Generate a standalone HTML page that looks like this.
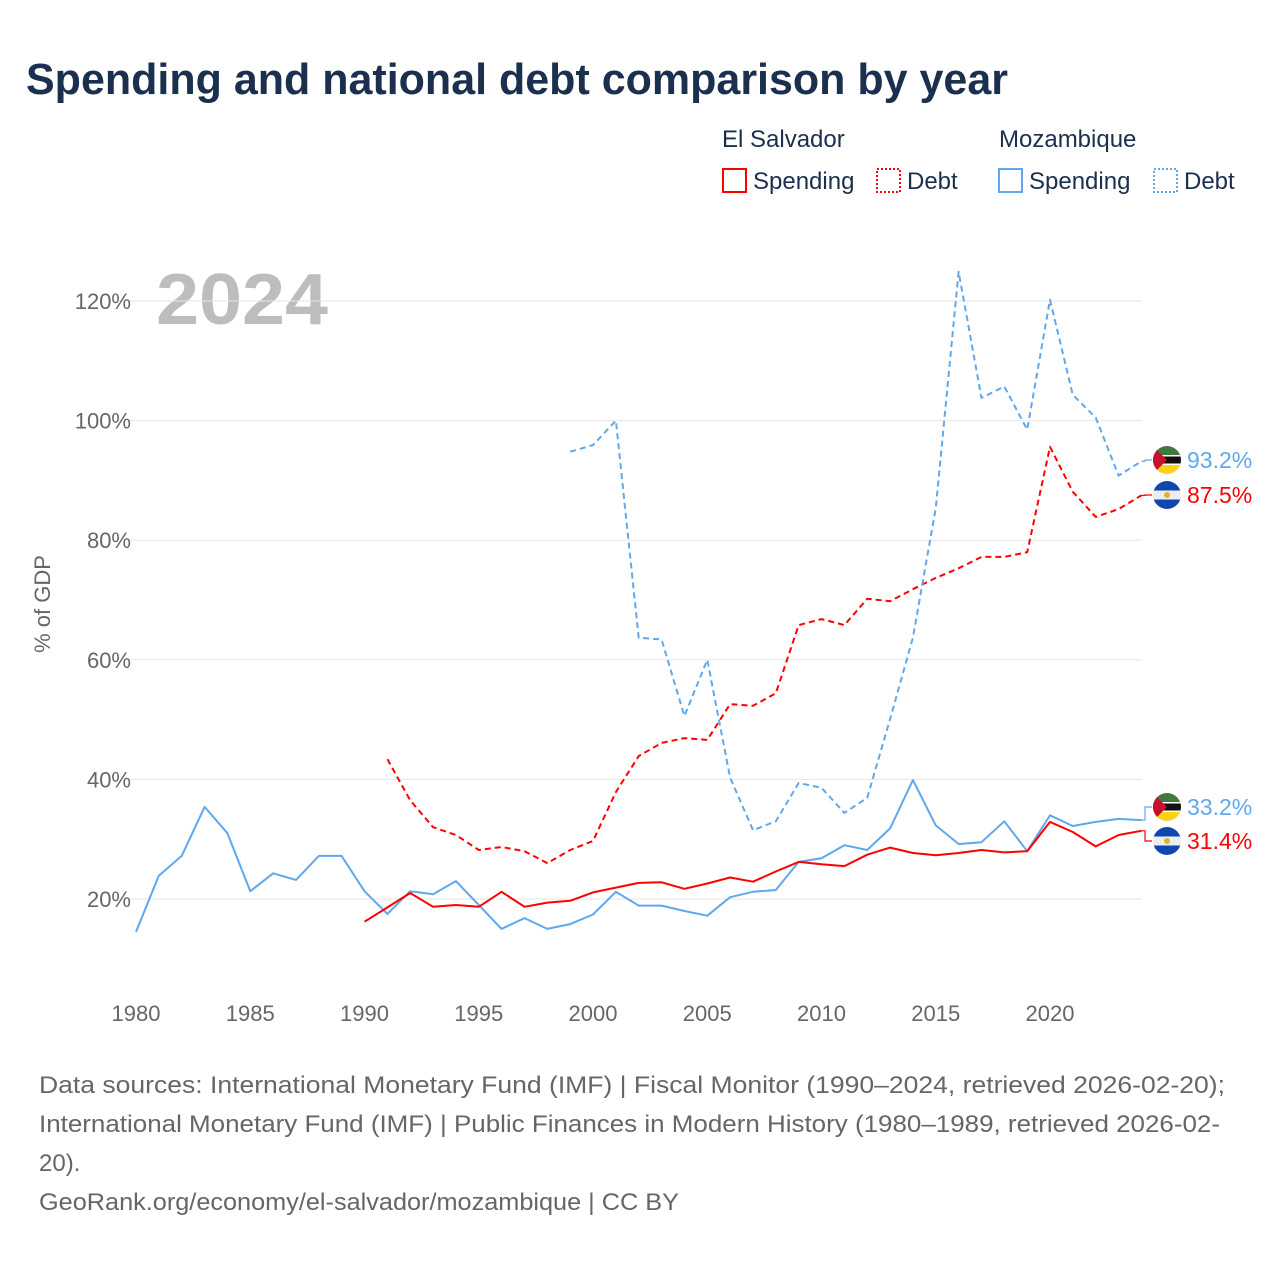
<!DOCTYPE html>
<html><head><meta charset="utf-8"><style>
body{margin:0;background:#fff;width:1280px;height:1280px;overflow:hidden;font-family:"Liberation Sans",sans-serif}
</style></head><body>
<svg id="c" width="1280" height="1280" xmlns="http://www.w3.org/2000/svg">
<text x="26" y="94" font-size="44" font-weight="bold" fill="#1b2f4e" textLength="982" lengthAdjust="spacingAndGlyphs">Spending and national debt comparison by year</text>
<g font-size="24" fill="#1b2f4e">
<text x="722" y="147">El Salvador</text>
<text x="999" y="147">Mozambique</text>
<g><rect x="723" y="169" width="23" height="23" fill="none" stroke="#f00" stroke-width="2"/><text x="753" y="189">Spending</text></g>
<g><rect x="877" y="169" width="23" height="23" fill="none" stroke="#f00" stroke-width="2" stroke-dasharray="2,2"/><text x="907" y="189">Debt</text></g>
<g><rect x="999" y="169" width="23" height="23" fill="none" stroke="#5ea8ee" stroke-width="2"/><text x="1029" y="189">Spending</text></g>
<g><rect x="1154" y="169" width="23" height="23" fill="none" stroke="#5ea8ee" stroke-width="2" stroke-dasharray="2,2"/><text x="1184" y="189">Debt</text></g>
</g>
<text x="156" y="324" font-size="72" font-weight="bold" fill="#bdbdbd" textLength="172" lengthAdjust="spacingAndGlyphs">2024</text>
<text transform="translate(50,604) rotate(-90)" text-anchor="middle" font-size="22" fill="#666">% of GDP</text>
<g id="grid"></g><g id="lines"></g><g id="ends"></g>
<g font-size="24" fill="#666">
<text x="39" y="1093" textLength="1186" lengthAdjust="spacingAndGlyphs">Data sources: International Monetary Fund (IMF) | Fiscal Monitor (1990–2024, retrieved 2026-02-20);</text>
<text x="39" y="1132" textLength="1181" lengthAdjust="spacingAndGlyphs">International Monetary Fund (IMF) | Public Finances in Modern History (1980–1989, retrieved 2026-02-</text>
<text x="39" y="1171">20).</text>
<text x="39" y="1210" textLength="640" lengthAdjust="spacingAndGlyphs">GeoRank.org/economy/el-salvador/mozambique | CC BY</text>
</g>
</svg>
<script>
const yTicks=[20,40,60,80,100,120];
const xTicks=[1980,1985,1990,1995,2000,2005,2010,2015,2020];
const mzSpendStart=1980;
const mzSpending=[14.5,23.9,27.2,35.4,31.0,21.3,24.3,23.2,27.2,27.2,21.3,17.5,21.3,20.8,23.0,19.0,15.0,16.8,15.0,15.8,17.4,21.2,18.9,18.9,18.0,17.2,20.3,21.2,21.5,26.2,26.8,29.0,28.2,31.8,39.9,32.3,29.2,29.5,33.0,28.0,34.0,32.2,32.9,33.4,33.2];
const esSpendStart=1990;
const esSpending=[16.2,18.6,21.0,18.7,19.0,18.7,21.2,18.7,19.4,19.7,21.1,21.9,22.7,22.8,21.7,22.6,23.6,22.9,24.6,26.2,25.8,25.5,27.4,28.6,27.7,27.3,27.7,28.2,27.8,28.0,32.9,31.2,28.8,30.7,31.4];
const esDebtStart=1991;
const esDebt=[43.4,36.5,32.0,30.7,28.2,28.7,28.0,26.0,28.2,29.7,37.9,43.9,46.1,46.9,46.6,52.6,52.3,54.4,65.8,66.8,65.8,70.2,69.8,71.8,73.7,75.3,77.2,77.2,78.0,95.6,88.1,83.9,85.2,87.5];
const mzDebtStart=1999;
const mzDebt=[94.8,95.9,100,63.7,63.4,50.6,60,40.3,31.5,33.0,39.4,38.6,34.4,36.9,50.1,63.7,85.4,124.9,103.8,105.7,98.5,120.2,104.3,100.5,90.8,93.2];

const X=y=>136+(y-1980)*22.85;
const Y=v=>1018.6-v*5.98;
const NS='http://www.w3.org/2000/svg';
function mk(t,a,p){const e=document.createElementNS(NS,t);for(const k in a)e.setAttribute(k,a[k]);p.appendChild(e);return e;}
const grid=document.getElementById('grid');
yTicks.forEach(v=>{
 const l=mk('line',{x1:128,x2:1142,y1:Y(v),y2:Y(v),stroke:'#e6e6e6','stroke-width':1},grid);
 
 
 const t=mk('text',{x:131,y:Y(v)+8,'text-anchor':'end','font-size':22,fill:'#666'},grid);
 t.textContent=v+'%';
 
 
});
xTicks.forEach(y=>{
 const t=mk('text',{x:X(y),y:1021,'text-anchor':'middle','font-size':22,fill:'#666'},grid);
 t.textContent=y;
 
 
});
const lines=document.getElementById('lines');
function series(arr,start,color,dash,name){
 const d=arr.map((v,i)=>(i?'L':'M')+X(start+i).toFixed(1)+','+Y(v).toFixed(1)).join('');
 const p=mk('path',{d:d,fill:'none',stroke:color,'stroke-width':2,'stroke-dasharray':dash||'none','stroke-linejoin':'round'},lines);
 
 
}
series(mzSpending,mzSpendStart,'#5ea8ee',null,'mozambique-spending-line');
series(esSpending,esSpendStart,'#f00',null,'el-salvador-spending-line');
series(esDebt,esDebtStart,'#f00','6,4','el-salvador-debt-line');
series(mzDebt,mzDebtStart,'#5ea8ee','6,4','mozambique-debt-line');

const ends=document.getElementById('ends');
function flag(cx,cy,mz,g){
 const cp='cp'+Math.round(cx)+'_'+Math.round(cy);
 const c=mk('clipPath',{id:cp},g);mk('circle',{cx:cx,cy:cy,r:14},c);
 const f=mk('g',{'clip-path':'url(#'+cp+')'},g);
 if(mz){
  mk('rect',{x:cx-14,y:cy-14,width:28,height:9,fill:'#3f7a3a'},f);
  mk('rect',{x:cx-14,y:cy-5,width:28,height:10,fill:'#111'},f);
  mk('rect',{x:cx-14,y:cy-5,width:28,height:1.5,fill:'#fff'},f);
  mk('rect',{x:cx-14,y:cy+3.5,width:28,height:1.5,fill:'#fff'},f);
  mk('rect',{x:cx-14,y:cy+5,width:28,height:9,fill:'#fcd116'},f);
  mk('polygon',{points:(cx-14)+','+(cy-14)+' '+(cx)+','+cy+' '+(cx-14)+','+(cy+14),fill:'#c8102e'},f);
 }else{
  mk('rect',{x:cx-14,y:cy-14,width:28,height:9.5,fill:'#0f47af'},f);
  mk('rect',{x:cx-14,y:cy-4.5,width:28,height:9,fill:'#eee'},f);
  mk('rect',{x:cx-14,y:cy+4.5,width:28,height:9.5,fill:'#0f47af'},f);
  mk('circle',{cx:cx,cy:cy,r:3,fill:'#d8b530'},f);
 }
}
function endLabel(val,ly,color,mz,name){
 const g=mk('g',{},ends);
 
 
 const x0=X(2024);
 mk('path',{d:'M'+x0+','+Y(val)+'H1145V'+ly+'H1152',fill:'none',stroke:color,'stroke-width':1.2},g);
 flag(1167,ly,mz,g);
 const t=mk('text',{x:1187,y:ly+8,'font-size':23,fill:color},g);
 t.textContent=val.toFixed(1)+'%';
}
endLabel(mzDebt[mzDebt.length-1],460,'#5ea8ee',true,'mozambique-debt-end-label');
endLabel(esDebt[esDebt.length-1],495,'#f00',false,'el-salvador-debt-end-label');
endLabel(mzSpending[mzSpending.length-1],807,'#5ea8ee',true,'mozambique-spending-end-label');
endLabel(esSpending[esSpending.length-1],841,'#f00',false,'el-salvador-spending-end-label');
</script>
</body></html>
